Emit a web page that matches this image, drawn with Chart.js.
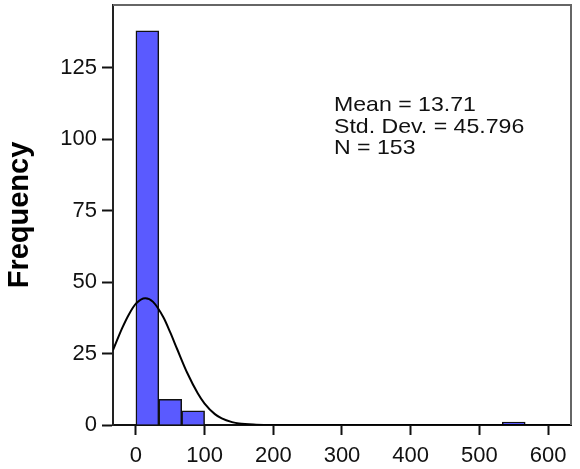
<!DOCTYPE html>
<html>
<head>
<meta charset="utf-8">
<script src="https://cdn.jsdelivr.net/npm/chart.js@4/dist/chart.umd.min.js"></script>
<style>
  html, body { margin: 0; padding: 0; background: #fff; }
  #wrap { position: relative; width: 580px; height: 469px; }
  canvas { display: block; }
  #stats {
    position: absolute; left: 334px; top: 93px;
    font-family: 'Liberation Sans', Arial, sans-serif; font-size: 21px; line-height: 21.5px;
    color: #111; white-space: pre; transform: scaleX(1.1); transform-origin: left top;
  }
</style>
</head>
<body>
<div id="wrap">
  <canvas id="c" width="580" height="469"></canvas>
  <div id="stats"></div>
</div>
<script>
// Histogram bins (bin centres, width 33.33) and their counts
const binCenters = [16.67, 50, 83.33, 550];
const counts = [138, 9, 5, 1];

// Normal curve at these x positions
const curveX = [-33.33, -20, -10, 0, 13.71, 25, 40, 50, 60, 75, 90, 100, 115, 125, 140, 150, 175, 200, 633.33];
const curveY = [26.2, 33.9, 38.8, 42.5, 44.4, 43.1, 37.7, 32.4, 26.6, 18.1, 11.1, 7.5, 3.8, 2.3, 1.0, 0.5, 0.1, 0, 0];

// Axis ticks
const xTicks = [0, 100, 200, 300, 400, 500, 600];
const yTicks = [0, 25, 50, 75, 100, 125];

// Statistics box
const statLines = ['Mean = 13.71', 'Std. Dev. = 45.796', 'N = 153'];
const yTitle = 'Frequency';

document.getElementById('stats').textContent = statLines.join('\n');

const frame = {
  id: 'frame',
  afterDraw(chart) {
    const a = chart.chartArea, ctx = chart.ctx;
    ctx.save();
    ctx.strokeStyle = '#666';
    ctx.lineWidth = 2;
    ctx.beginPath();
    ctx.moveTo(a.left, a.top);
    ctx.lineTo(a.right, a.top);
    ctx.lineTo(a.right, a.bottom);
    ctx.stroke();
    ctx.restore();
  }
};

const font = { family: "'Liberation Sans', Arial, sans-serif", size: 22 };

new Chart(document.getElementById('c'), {
  type: 'bar',
  data: {
    datasets: [
      {
        type: 'line',
        data: curveX.map((x, i) => ({ x: x, y: curveY[i] })),
        borderColor: '#000',
        borderWidth: 2,
        pointRadius: 0,
        fill: false,
        cubicInterpolationMode: 'monotone',
        order: 0
      },
      {
        type: 'bar',
        data: binCenters.map((x, i) => ({ x: x, y: counts[i] })),
        backgroundColor: '#5a5aff',
        borderColor: '#111',
        borderWidth: 1.5,
        barPercentage: 1,
        categoryPercentage: 1,
        order: 1
      }
    ]
  },
  options: {
    responsive: false,
    animation: false,
    events: [],
    layout: { padding: { top: 5, right: 9, left: 0, bottom: 0 } },
    plugins: { legend: { display: false }, tooltip: { enabled: false } },
    scales: {
      x: {
        type: 'linear',
        min: -33.33,
        max: 633.33,
        offset: false,
        grid: { display: true, drawOnChartArea: false, drawTicks: true, tickLength: 10, tickWidth: 2, tickColor: '#111', offset: false },
        border: { display: true, color: '#111', width: 2 },
        ticks: { font: font, color: '#111', padding: 8, maxRotation: 0, autoSkip: false },
        afterBuildTicks(s) { s.ticks = xTicks.map(v => ({ value: v })); },
        afterFit(s) { s.height = 44; s.paddingLeft = 0; s.paddingRight = 0; }
      },
      y: {
        type: 'linear',
        min: 0,
        max: 147,
        grid: { display: true, drawOnChartArea: false, drawTicks: true, tickLength: 11, tickWidth: 2, tickColor: '#111' },
        border: { display: true, color: '#222', width: 2 },
        ticks: { font: font, color: '#111', padding: 5, autoSkip: false },
        title: { display: true, text: yTitle, color: '#000', font: { family: "'Liberation Sans', Arial, sans-serif", size: 29, weight: 'bold' }, padding: { top: 3, bottom: 0 } },
        afterBuildTicks(s) { s.ticks = yTicks.map(v => ({ value: v })); },
        afterFit(s) { s.width = 113; s.paddingTop = 0; s.paddingBottom = 0; }
      }
    }
  },
  plugins: [frame]
});
</script>
</body>
</html>
